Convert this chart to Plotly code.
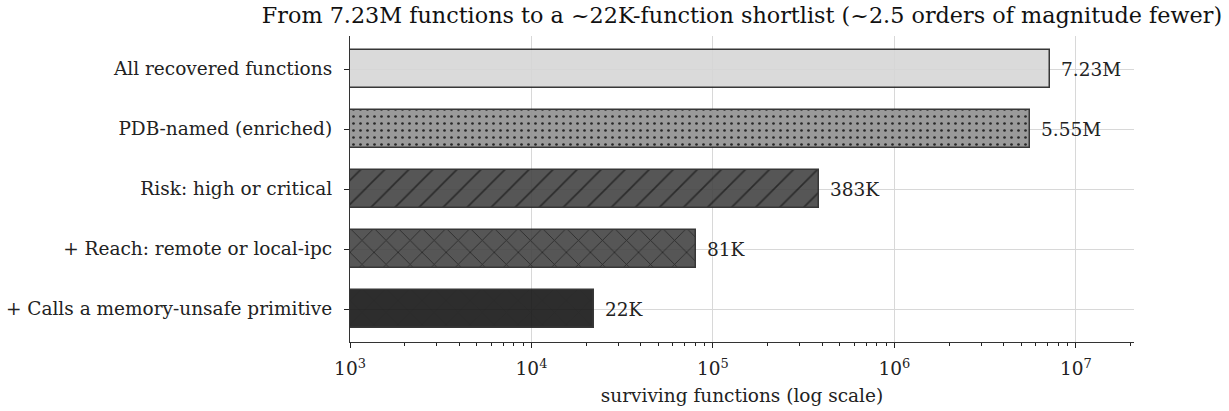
import numpy as np
import plotly.graph_objects as go

# ---- data (top to bottom) ----
stages = [
    "All recovered functions",
    "PDB-named (enriched)",
    "Risk: high or critical",
    "+ Reach: remote or local-ipc",
    "+ Calls a memory-unsafe primitive",
]
counts = [7230000, 5550000, 383000, 81000, 22000]
count_labels = ["7.23M", "5.55M", "383K", "81K", "22K"]
fill_colors = ["#d6d6d6", "#909090", "#444444", "#444444", "#171717"]
hatches = ["", ".", "/", "x", "x"]
tick_vals = [1e3, 1e4, 1e5, 1e6, 1e7]
tick_text = ["10<sup>3</sup>", "10<sup>4</sup>", "10<sup>5</sup>", "10<sup>6</sup>", "10<sup>7</sup>"]

title = "From 7.23M functions to a ~22K-function shortlist (~2.5 orders of magnitude fewer)"
x_title = "surviving functions (log scale)"

FONT = "DejaVu Serif"
FS = 18.5

fig = go.Figure()
for s, c, col, h in zip(stages, counts, fill_colors, hatches):
    if h == ".":
        pat = dict(shape=h, fgcolor="#111111", fgopacity=1, size=7, solidity=0.12)
    elif h:
        pat = dict(shape=h, fgcolor="#151515", fgopacity=1, size=17, solidity=0.1)
    else:
        pat = dict(shape="")
    fig.add_trace(go.Bar(
        y=[s], x=[c], orientation="h", width=0.62,
        marker=dict(color=col, line=dict(color="#222222", width=1.5), pattern=pat),
        opacity=0.9, showlegend=False, hoverinfo="skip",
    ))

for s, c, lab in zip(stages, counts, count_labels):
    fig.add_annotation(x=np.log10(c), y=s, text=lab, showarrow=False,
                       xanchor="left", yanchor="middle", xshift=9,
                       font=dict(family=FONT, size=FS, color="#222222"))

fig.update_layout(
    width=1229, height=411,
    margin=dict(l=350, r=95, t=36, b=69, autoexpand=False),
    paper_bgcolor="white", plot_bgcolor="white",
    font=dict(family=FONT, size=FS, color="#222222"),
    title=dict(text=title, x=(350 + 1134) / 2 / 1229, xanchor="center",
               y=1 - 15 / 411, yanchor="middle",
               font=dict(family=FONT, size=22.3, color="#111111")),
    bargap=0,
)

fig.update_xaxes(
    type="log", range=[3, 7.32], automargin=False,
    tickvals=tick_vals, ticktext=tick_text,
    ticks="outside", ticklen=5, tickwidth=1.1, tickcolor="#222222",
    minor=dict(ticks="outside", ticklen=3, tickwidth=0.8, tickcolor="#222222",
               dtick="D1", showgrid=False),
    showgrid=True, gridcolor="#d8d8d8", gridwidth=0.8,
    showline=True, linecolor="#333333", linewidth=1.3,
    zeroline=False, ticklabelstandoff=5,
    title=dict(text=x_title, font=dict(family=FONT, size=FS), standoff=10),
    tickfont=dict(family=FONT, size=FS, color="#222222"),
)

fig.update_yaxes(
    type="category", categoryorder="array", categoryarray=stages,
    range=[4.55, -0.55], automargin=False,
    ticks="outside", ticklen=5, tickwidth=1.1, tickcolor="#222222",
    showgrid=True, gridcolor="#d8d8d8", gridwidth=0.8,
    showline=True, linecolor="#333333", linewidth=1.3,
    zeroline=False, ticklabelstandoff=8,
    tickfont=dict(family=FONT, size=FS, color="#222222"),
)

fig.write_html("out.html", config={"displayModeBar": False},
               post_script="document.body.style.margin='0';")
